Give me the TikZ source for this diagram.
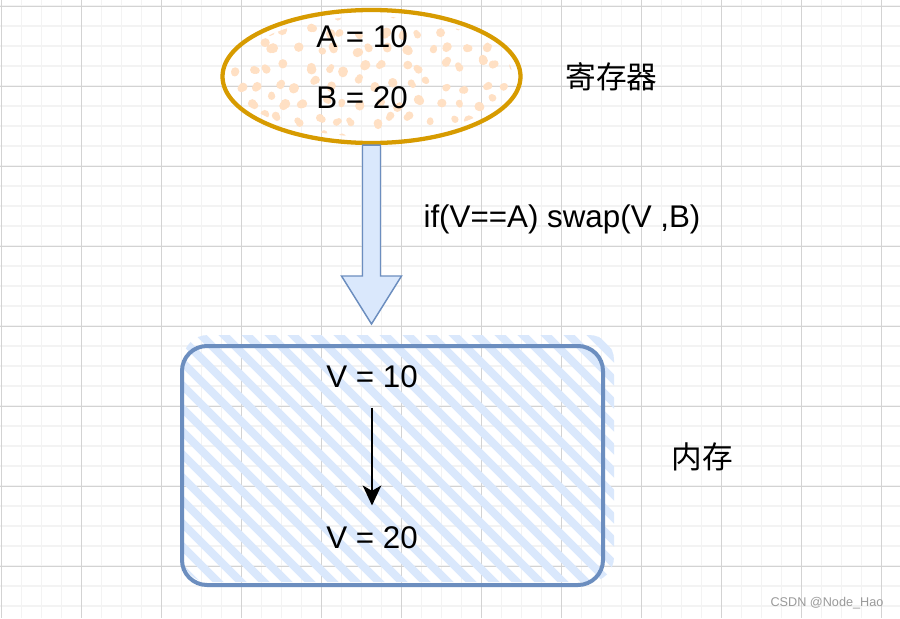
\documentclass[tikz,border=0pt]{standalone}
\usepackage{fontspec}
\setmainfont{Liberation Sans}
\newfontfamily\cjk{Noto Sans CJK SC}
\usetikzlibrary{shapes.geometric,arrows.meta,calc}
\definecolor{gridmin}{HTML}{F3F3F3}
\definecolor{gridmaj}{HTML}{D3D3D3}
\definecolor{orangeline}{HTML}{D79B00}
\definecolor{peach}{HTML}{FFE0C4}
\definecolor{blueline}{HTML}{6C8EBF}
\definecolor{bluefill}{HTML}{DAE8FC}
\definecolor{wmgray}{HTML}{9A9A9A}
\begin{document}
\begin{tikzpicture}[x=0.75pt,y=-0.75pt,
  lbl/.style={inner sep=0pt, font=\fontsize{23.5}{28}\selectfont},
  cjklbl/.style={inner sep=0pt, font=\cjk\fontsize{23}{28}\selectfont},
  regstyle/.style={ellipse, draw=orangeline, line width=3.2pt, minimum width=223.5pt, minimum height=99.75pt, inner sep=0pt},
  memstyle/.style={rectangle, draw=blueline, line width=3pt, rounded corners=18.75pt, minimum width=315.75pt, minimum height=179.25pt, inner sep=0pt},
  blockarrow/.style={draw=blueline, fill=bluefill, line width=1.1pt, line join=miter},
  flowarrow/.style={-{Stealth[length=15pt,width=14pt,inset=4pt]}, line width=1.1pt, black},
  hatchline/.style={bluefill, line width=6pt, line cap=round},
]
\useasboundingbox (0,0) rectangle (900,618);
\fill[white] (0,0) rectangle (900,618);
% grid
\foreach \i in {0,...,44} \draw[gridmin, line width=1.2pt] (1.5+20*\i,0) -- (1.5+20*\i,618);
\foreach \j in {0,...,30} \draw[gridmin, line width=1.2pt] (0,6+20*\j) -- (900,6+20*\j);
\foreach \i in {0,...,11} \draw[gridmaj, line width=0.75pt] (1.5+80*\i,0) -- (1.5+80*\i,618);
\foreach \j in {0,...,7} \draw[gridmaj, line width=0.75pt] (0,6+80*\j) -- (900,6+80*\j);
% register dots fill (jittered grid of irregular blobs)
\begin{scope}
  \clip (371.5,76.5) ellipse[x radius=141, y radius=60];
  \pgfmathsetseed{11}
  \foreach \gx in {0,...,15}{
    \foreach \gy in {0,...,7}{
      \pgfmathsetmacro\ox{222+19*\gx+6*rand+9*mod(\gy,2)}
      \pgfmathsetmacro\oy{12+18*\gy+6*rand}
      \pgfmathsetmacro\rr{4.2+0.8*rand}
      \pgfmathsetmacro\ex{2.5*rand}
      \pgfmathsetmacro\ey{2.5*rand}
      \fill[peach] (\ox,\oy) circle[radius=\rr];
      \fill[peach] (\ox+\ex,\oy+\ey) circle[radius=\rr-0.6];
    }
  }
\end{scope}
\node[regstyle] (reg) at (371.5,76.5) {};
\node[lbl] (a10) at (362,37) {A = 10};
\node[lbl] (b20) at (362,97.5) {B = 20};
\node[cjklbl] (regl) at (611.5,76.5) {寄存器};
% memory hatch fill
\begin{scope}
  \clip[rounded corners=18.75pt] (183,335) rectangle (614,582);
  \foreach \k in {-14,...,20}{
    \draw[hatchline] (-134+23*\k+200,200) -- (-134+23*\k+700,700);
  }
\end{scope}
\node[memstyle] (mem) at (392.5,465.5) {};
\node[lbl] (v1) at (372,377) {V = 10};
\node[lbl] (v2) at (372,537.5) {V = 20};
\node[cjklbl] (meml) at (702,456.7) {内存};
% block arrow
\coordinate (atop) at (reg.south);
\coordinate (tip) at ($(reg.south |- mem.north)+(0,-20)$);
\draw[blockarrow] ($(atop)+(-9,0)$) -- ($(atop)+(9,0)$) -- ($(tip)+(9,-48)$) -- ($(tip)+(30,-48)$) -- (tip) -- ($(tip)+(-30,-48)$) -- ($(tip)+(-9,-48)$) -- cycle;
\node[lbl] (cond) at (562,219) {if(V==A) swap(V ,B)};
% flow arrow
\draw[flowarrow] ([yshift=-14.5pt]v1.south) -- ([yshift=15.5pt]v2.north);
% watermark
\node[inner sep=0pt, font=\fontsize{9.5}{11}\selectfont, text=wmgray] (wm) at (827,603) {CSDN @Node\_Hao};
\end{tikzpicture}
\end{document}
